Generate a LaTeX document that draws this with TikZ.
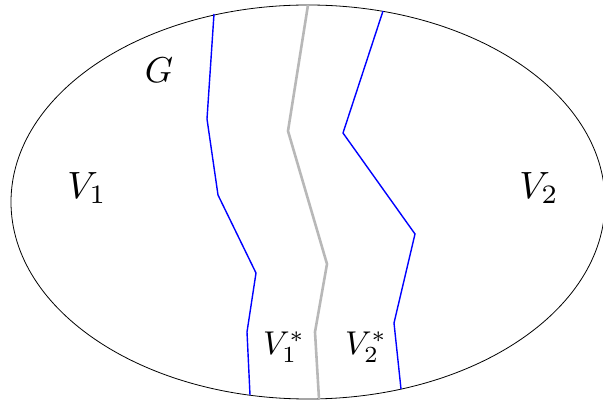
\documentclass[tikz,border=0pt]{standalone}
\usepackage{tikz}
\begin{document}
\begin{tikzpicture}[x=1pt,y=-1pt,
  bluecut/.style={draw=blue,line width=1.4pt,line join=miter},
  greycut/.style={draw=black!28,line width=2.6pt},
  biglabel/.style={scale=3.8,inner sep=0pt},
  starlabel/.style={scale=3.3,inner sep=0pt},
  glabel/.style={scale=3.6,inner sep=0pt}]
\useasboundingbox (0,0) rectangle (603,403);
\clip (0,0) rectangle (603,403);
\draw[line width=0.8pt] (308,202) ellipse [x radius=297, y radius=197];
\draw[bluecut] (214,14) -- (207,119) -- (218,195) -- (256,273) -- (247,332) -- (250,395);
\draw[greycut] (308,5) -- (288,131) -- (327,264) -- (315,332) -- (319,399);
\draw[bluecut] (383,11) -- (343,133) -- (415,234) -- (394,323) -- (401,389);
\node[glabel] (g) at (159,70) {$G$};
\node[biglabel] (v1) at (87,188) {$V_1$};
\node[biglabel] (v2) at (539,188) {$V_2$};
\node[starlabel] (v1s) at (284,347) {$V_1^*$};
\node[starlabel] (v2s) at (366,347) {$V_2^*$};
\end{tikzpicture}
\end{document}
